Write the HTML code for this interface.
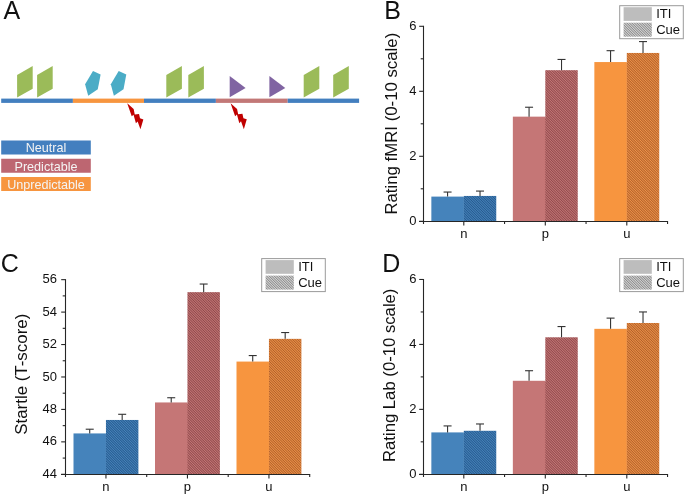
<!DOCTYPE html>
<html><head><meta charset="utf-8"><style>
html,body{margin:0;padding:0;background:#fff;}
svg{display:block;will-change:transform;}
text{font-family:"Liberation Sans", sans-serif;fill:#111;}
</style></head><body>
<svg width="685" height="495" viewBox="0 0 685 495" font-family='"Liberation Sans", sans-serif'>
<defs><pattern id="hb" patternUnits="userSpaceOnUse" width="1.77" height="10" patternTransform="rotate(-45)"><rect width="1.77" height="10" fill="#4583bb"/><rect x="0" y="0" width="0.885" height="10" fill="#275a8e"/></pattern><pattern id="hr" patternUnits="userSpaceOnUse" width="1.77" height="10" patternTransform="rotate(-45)"><rect width="1.77" height="10" fill="#c57676"/><rect x="0" y="0" width="0.885" height="10" fill="#8f4a4c"/></pattern><pattern id="ho" patternUnits="userSpaceOnUse" width="1.77" height="10" patternTransform="rotate(-45)"><rect width="1.77" height="10" fill="#ef9249"/><rect x="0" y="0" width="0.885" height="10" fill="#b0612a"/></pattern><pattern id="hg" patternUnits="userSpaceOnUse" width="1.77" height="10" patternTransform="rotate(-45)"><rect width="1.77" height="10" fill="#d8d8d8"/><rect x="0" y="0" width="0.885" height="10" fill="#8a8a8a"/></pattern></defs>
<rect x="431.35" y="196.60" width="32.45" height="24.70" fill="#4583bb"/>
<rect x="463.30" y="197.60" width="1.2" height="23.70" fill="#4583bb"/>
<rect x="463.80" y="195.95" width="32.45" height="25.35" fill="url(#hb)"/>
<line x1="447.57" y1="196.60" x2="447.57" y2="192.05" stroke="#333" stroke-width="1.1"/>
<line x1="443.57" y1="192.05" x2="451.57" y2="192.05" stroke="#333" stroke-width="1.1"/>
<line x1="480.03" y1="195.95" x2="480.03" y2="191.08" stroke="#333" stroke-width="1.1"/>
<line x1="476.03" y1="191.08" x2="484.03" y2="191.08" stroke="#333" stroke-width="1.1"/>
<rect x="512.85" y="116.65" width="32.45" height="104.65" fill="#c57676"/>
<rect x="544.80" y="117.65" width="1.2" height="103.65" fill="#c57676"/>
<rect x="545.30" y="70.18" width="32.45" height="151.12" fill="url(#hr)"/>
<line x1="529.07" y1="116.65" x2="529.07" y2="107.23" stroke="#333" stroke-width="1.1"/>
<line x1="525.07" y1="107.23" x2="533.07" y2="107.23" stroke="#333" stroke-width="1.1"/>
<line x1="561.52" y1="70.18" x2="561.52" y2="59.45" stroke="#333" stroke-width="1.1"/>
<line x1="557.52" y1="59.45" x2="565.52" y2="59.45" stroke="#333" stroke-width="1.1"/>
<rect x="594.35" y="62.05" width="32.45" height="159.25" fill="#f7953f"/>
<rect x="626.30" y="63.05" width="1.2" height="158.25" fill="#f7953f"/>
<rect x="626.80" y="52.95" width="32.45" height="168.35" fill="url(#ho)"/>
<line x1="610.57" y1="62.05" x2="610.57" y2="50.68" stroke="#333" stroke-width="1.1"/>
<line x1="606.57" y1="50.68" x2="614.57" y2="50.68" stroke="#333" stroke-width="1.1"/>
<line x1="643.02" y1="52.95" x2="643.02" y2="41.58" stroke="#333" stroke-width="1.1"/>
<line x1="639.02" y1="41.58" x2="647.02" y2="41.58" stroke="#333" stroke-width="1.1"/>
<line x1="423.50" y1="25.80" x2="423.50" y2="224.00" stroke="#262626" stroke-width="1.1"/>
<line x1="419.00" y1="221.50" x2="668.05" y2="221.50" stroke="#262626" stroke-width="1.1"/>
<line x1="419.20" y1="221.30" x2="423.50" y2="221.30" stroke="#262626" stroke-width="1.1"/>
<text x="416.45" y="224.90" text-anchor="end" font-size="13">0</text>
<line x1="420.70" y1="188.80" x2="423.50" y2="188.80" stroke="#262626" stroke-width="1.1"/>
<line x1="419.20" y1="156.30" x2="423.50" y2="156.30" stroke="#262626" stroke-width="1.1"/>
<text x="416.45" y="159.90" text-anchor="end" font-size="13">2</text>
<line x1="420.70" y1="123.80" x2="423.50" y2="123.80" stroke="#262626" stroke-width="1.1"/>
<line x1="419.20" y1="91.30" x2="423.50" y2="91.30" stroke="#262626" stroke-width="1.1"/>
<text x="416.45" y="94.90" text-anchor="end" font-size="13">4</text>
<line x1="420.70" y1="58.80" x2="423.50" y2="58.80" stroke="#262626" stroke-width="1.1"/>
<line x1="419.20" y1="26.30" x2="423.50" y2="26.30" stroke="#262626" stroke-width="1.1"/>
<text x="416.45" y="29.90" text-anchor="end" font-size="13">6</text>
<line x1="463.80" y1="221.50" x2="463.80" y2="225.50" stroke="#262626" stroke-width="1.1"/>
<line x1="504.55" y1="221.50" x2="504.55" y2="224.00" stroke="#262626" stroke-width="1.1"/>
<line x1="545.30" y1="221.50" x2="545.30" y2="225.50" stroke="#262626" stroke-width="1.1"/>
<line x1="586.05" y1="221.50" x2="586.05" y2="224.00" stroke="#262626" stroke-width="1.1"/>
<line x1="626.80" y1="221.50" x2="626.80" y2="225.50" stroke="#262626" stroke-width="1.1"/>
<line x1="667.55" y1="221.50" x2="667.55" y2="224.00" stroke="#262626" stroke-width="1.1"/>
<text x="463.80" y="238.30" text-anchor="middle" font-size="13">n</text>
<text x="545.30" y="238.30" text-anchor="middle" font-size="13">p</text>
<text x="626.80" y="238.30" text-anchor="middle" font-size="13">u</text>
<text transform="translate(397.40,123.70) rotate(-90)" text-anchor="middle" font-size="16.8">Rating fMRI (0-10 scale)</text>
<rect x="619.70" y="5.70" width="63.6" height="33" fill="#fff" stroke="#9a9a9a" stroke-width="1"/>
<rect x="623.60" y="7.20" width="28.2" height="13.7" fill="#bdbdbd"/>
<rect x="623.60" y="22.70" width="28.2" height="14" fill="url(#hg)"/>
<text x="656.20" y="18.20" font-size="13">ITI</text>
<text x="656.20" y="33.70" font-size="13">Cue</text>
<text x="384.30" y="18.50" font-size="25">B</text>
<rect x="73.50" y="433.43" width="32.45" height="40.87" fill="#4583bb"/>
<rect x="105.45" y="434.43" width="1.2" height="39.87" fill="#4583bb"/>
<rect x="105.95" y="419.96" width="32.45" height="54.34" fill="url(#hb)"/>
<line x1="89.72" y1="433.43" x2="89.72" y2="429.21" stroke="#333" stroke-width="1.1"/>
<line x1="85.72" y1="429.21" x2="93.72" y2="429.21" stroke="#333" stroke-width="1.1"/>
<line x1="122.18" y1="419.96" x2="122.18" y2="414.29" stroke="#333" stroke-width="1.1"/>
<line x1="118.18" y1="414.29" x2="126.18" y2="414.29" stroke="#333" stroke-width="1.1"/>
<rect x="155.00" y="402.45" width="32.45" height="71.85" fill="#c57676"/>
<rect x="186.95" y="403.45" width="1.2" height="70.85" fill="#c57676"/>
<rect x="187.45" y="292.15" width="32.45" height="182.15" fill="url(#hr)"/>
<line x1="171.22" y1="402.45" x2="171.22" y2="397.74" stroke="#333" stroke-width="1.1"/>
<line x1="167.22" y1="397.74" x2="175.22" y2="397.74" stroke="#333" stroke-width="1.1"/>
<line x1="203.67" y1="292.15" x2="203.67" y2="284.04" stroke="#333" stroke-width="1.1"/>
<line x1="199.67" y1="284.04" x2="207.67" y2="284.04" stroke="#333" stroke-width="1.1"/>
<rect x="236.50" y="361.57" width="32.45" height="112.73" fill="#f7953f"/>
<rect x="268.45" y="362.57" width="1.2" height="111.73" fill="#f7953f"/>
<rect x="268.95" y="338.86" width="32.45" height="135.44" fill="url(#ho)"/>
<line x1="252.72" y1="361.57" x2="252.72" y2="355.57" stroke="#333" stroke-width="1.1"/>
<line x1="248.72" y1="355.57" x2="256.73" y2="355.57" stroke="#333" stroke-width="1.1"/>
<line x1="285.18" y1="338.86" x2="285.18" y2="332.54" stroke="#333" stroke-width="1.1"/>
<line x1="281.18" y1="332.54" x2="289.18" y2="332.54" stroke="#333" stroke-width="1.1"/>
<line x1="65.50" y1="279.16" x2="65.50" y2="477.00" stroke="#262626" stroke-width="1.1"/>
<line x1="61.00" y1="474.50" x2="310.20" y2="474.50" stroke="#262626" stroke-width="1.1"/>
<line x1="61.20" y1="474.30" x2="65.50" y2="474.30" stroke="#262626" stroke-width="1.1"/>
<text x="56.90" y="477.90" text-anchor="end" font-size="13">44</text>
<line x1="62.70" y1="458.08" x2="65.50" y2="458.08" stroke="#262626" stroke-width="1.1"/>
<line x1="61.20" y1="441.86" x2="65.50" y2="441.86" stroke="#262626" stroke-width="1.1"/>
<text x="56.90" y="445.46" text-anchor="end" font-size="13">46</text>
<line x1="62.70" y1="425.64" x2="65.50" y2="425.64" stroke="#262626" stroke-width="1.1"/>
<line x1="61.20" y1="409.42" x2="65.50" y2="409.42" stroke="#262626" stroke-width="1.1"/>
<text x="56.90" y="413.02" text-anchor="end" font-size="13">48</text>
<line x1="62.70" y1="393.20" x2="65.50" y2="393.20" stroke="#262626" stroke-width="1.1"/>
<line x1="61.20" y1="376.98" x2="65.50" y2="376.98" stroke="#262626" stroke-width="1.1"/>
<text x="56.90" y="380.58" text-anchor="end" font-size="13">50</text>
<line x1="62.70" y1="360.76" x2="65.50" y2="360.76" stroke="#262626" stroke-width="1.1"/>
<line x1="61.20" y1="344.54" x2="65.50" y2="344.54" stroke="#262626" stroke-width="1.1"/>
<text x="56.90" y="348.14" text-anchor="end" font-size="13">52</text>
<line x1="62.70" y1="328.32" x2="65.50" y2="328.32" stroke="#262626" stroke-width="1.1"/>
<line x1="61.20" y1="312.10" x2="65.50" y2="312.10" stroke="#262626" stroke-width="1.1"/>
<text x="56.90" y="315.70" text-anchor="end" font-size="13">54</text>
<line x1="62.70" y1="295.88" x2="65.50" y2="295.88" stroke="#262626" stroke-width="1.1"/>
<line x1="61.20" y1="279.66" x2="65.50" y2="279.66" stroke="#262626" stroke-width="1.1"/>
<text x="56.90" y="283.26" text-anchor="end" font-size="13">56</text>
<line x1="105.95" y1="474.50" x2="105.95" y2="478.50" stroke="#262626" stroke-width="1.1"/>
<line x1="146.70" y1="474.50" x2="146.70" y2="477.00" stroke="#262626" stroke-width="1.1"/>
<line x1="187.45" y1="474.50" x2="187.45" y2="478.50" stroke="#262626" stroke-width="1.1"/>
<line x1="228.20" y1="474.50" x2="228.20" y2="477.00" stroke="#262626" stroke-width="1.1"/>
<line x1="268.95" y1="474.50" x2="268.95" y2="478.50" stroke="#262626" stroke-width="1.1"/>
<line x1="309.70" y1="474.50" x2="309.70" y2="477.00" stroke="#262626" stroke-width="1.1"/>
<text x="105.95" y="491.30" text-anchor="middle" font-size="13">n</text>
<text x="187.45" y="491.30" text-anchor="middle" font-size="13">p</text>
<text x="268.95" y="491.30" text-anchor="middle" font-size="13">u</text>
<text transform="translate(26.50,374.25) rotate(-90)" text-anchor="middle" font-size="16.9">Startle (T-score)</text>
<rect x="261.70" y="258.60" width="63.6" height="33" fill="#fff" stroke="#9a9a9a" stroke-width="1"/>
<rect x="265.60" y="260.10" width="28.2" height="13.7" fill="#bdbdbd"/>
<rect x="265.60" y="275.60" width="28.2" height="14" fill="url(#hg)"/>
<text x="298.20" y="271.10" font-size="13">ITI</text>
<text x="298.20" y="286.60" font-size="13">Cue</text>
<text x="0.70" y="271.50" font-size="25">C</text>
<rect x="431.35" y="432.41" width="32.45" height="41.89" fill="#4583bb"/>
<rect x="463.30" y="433.41" width="1.2" height="40.89" fill="#4583bb"/>
<rect x="463.80" y="430.79" width="32.45" height="43.51" fill="url(#hb)"/>
<line x1="447.57" y1="432.41" x2="447.57" y2="425.92" stroke="#333" stroke-width="1.1"/>
<line x1="443.57" y1="425.92" x2="451.57" y2="425.92" stroke="#333" stroke-width="1.1"/>
<line x1="480.03" y1="430.79" x2="480.03" y2="423.97" stroke="#333" stroke-width="1.1"/>
<line x1="476.03" y1="423.97" x2="484.03" y2="423.97" stroke="#333" stroke-width="1.1"/>
<rect x="512.85" y="380.79" width="32.45" height="93.51" fill="#c57676"/>
<rect x="544.80" y="381.79" width="1.2" height="92.51" fill="#c57676"/>
<rect x="545.30" y="337.28" width="32.45" height="137.02" fill="url(#hr)"/>
<line x1="529.07" y1="380.79" x2="529.07" y2="370.72" stroke="#333" stroke-width="1.1"/>
<line x1="525.07" y1="370.72" x2="533.07" y2="370.72" stroke="#333" stroke-width="1.1"/>
<line x1="561.52" y1="337.28" x2="561.52" y2="326.56" stroke="#333" stroke-width="1.1"/>
<line x1="557.52" y1="326.56" x2="565.52" y2="326.56" stroke="#333" stroke-width="1.1"/>
<rect x="594.35" y="328.83" width="32.45" height="145.47" fill="#f7953f"/>
<rect x="626.30" y="329.83" width="1.2" height="144.47" fill="#f7953f"/>
<rect x="626.80" y="322.99" width="32.45" height="151.31" fill="url(#ho)"/>
<line x1="610.57" y1="328.83" x2="610.57" y2="318.12" stroke="#333" stroke-width="1.1"/>
<line x1="606.57" y1="318.12" x2="614.57" y2="318.12" stroke="#333" stroke-width="1.1"/>
<line x1="643.02" y1="322.99" x2="643.02" y2="311.95" stroke="#333" stroke-width="1.1"/>
<line x1="639.02" y1="311.95" x2="647.02" y2="311.95" stroke="#333" stroke-width="1.1"/>
<line x1="423.50" y1="278.98" x2="423.50" y2="477.00" stroke="#262626" stroke-width="1.1"/>
<line x1="419.00" y1="474.50" x2="668.05" y2="474.50" stroke="#262626" stroke-width="1.1"/>
<line x1="419.20" y1="474.30" x2="423.50" y2="474.30" stroke="#262626" stroke-width="1.1"/>
<text x="416.45" y="477.90" text-anchor="end" font-size="13">0</text>
<line x1="420.70" y1="441.83" x2="423.50" y2="441.83" stroke="#262626" stroke-width="1.1"/>
<line x1="419.20" y1="409.36" x2="423.50" y2="409.36" stroke="#262626" stroke-width="1.1"/>
<text x="416.45" y="412.96" text-anchor="end" font-size="13">2</text>
<line x1="420.70" y1="376.89" x2="423.50" y2="376.89" stroke="#262626" stroke-width="1.1"/>
<line x1="419.20" y1="344.42" x2="423.50" y2="344.42" stroke="#262626" stroke-width="1.1"/>
<text x="416.45" y="348.02" text-anchor="end" font-size="13">4</text>
<line x1="420.70" y1="311.95" x2="423.50" y2="311.95" stroke="#262626" stroke-width="1.1"/>
<line x1="419.20" y1="279.48" x2="423.50" y2="279.48" stroke="#262626" stroke-width="1.1"/>
<text x="416.45" y="283.08" text-anchor="end" font-size="13">6</text>
<line x1="463.80" y1="474.50" x2="463.80" y2="478.50" stroke="#262626" stroke-width="1.1"/>
<line x1="504.55" y1="474.50" x2="504.55" y2="477.00" stroke="#262626" stroke-width="1.1"/>
<line x1="545.30" y1="474.50" x2="545.30" y2="478.50" stroke="#262626" stroke-width="1.1"/>
<line x1="586.05" y1="474.50" x2="586.05" y2="477.00" stroke="#262626" stroke-width="1.1"/>
<line x1="626.80" y1="474.50" x2="626.80" y2="478.50" stroke="#262626" stroke-width="1.1"/>
<line x1="667.55" y1="474.50" x2="667.55" y2="477.00" stroke="#262626" stroke-width="1.1"/>
<text x="463.80" y="491.30" text-anchor="middle" font-size="13">n</text>
<text x="545.30" y="491.30" text-anchor="middle" font-size="13">p</text>
<text x="626.80" y="491.30" text-anchor="middle" font-size="13">u</text>
<text transform="translate(394.70,375.30) rotate(-90)" text-anchor="middle" font-size="16.7">Rating Lab (0-10 scale)</text>
<rect x="619.70" y="258.60" width="63.6" height="33" fill="#fff" stroke="#9a9a9a" stroke-width="1"/>
<rect x="623.60" y="260.10" width="28.2" height="13.7" fill="#bdbdbd"/>
<rect x="623.60" y="275.60" width="28.2" height="14" fill="url(#hg)"/>
<text x="656.20" y="271.10" font-size="13">ITI</text>
<text x="656.20" y="286.60" font-size="13">Cue</text>
<text x="382.20" y="271.80" font-size="25">D</text>
<text x="3.5" y="18.6" font-size="25">A</text>
<rect x="1.2" y="98.6" width="71.70" height="4.3" fill="#437fbf"/>
<rect x="72.9" y="98.6" width="71.10" height="4.3" fill="#f7953f"/>
<rect x="144" y="98.6" width="71.90" height="4.3" fill="#437fbf"/>
<rect x="215.9" y="98.6" width="71.80" height="4.3" fill="#c27877"/>
<rect x="287.7" y="98.6" width="71.40" height="4.3" fill="#437fbf"/>
<polygon points="17.10,75.1 32.70,66.0 32.70,88.8 17.10,97.6" fill="#9bbb59"/>
<polygon points="37.10,75.1 52.70,66.0 52.70,88.8 37.10,97.6" fill="#9bbb59"/>
<polygon points="166.30,75.1 181.90,66.0 181.90,88.8 166.30,97.6" fill="#9bbb59"/>
<polygon points="188.30,75.1 203.90,66.0 203.90,88.8 188.30,97.6" fill="#9bbb59"/>
<polygon points="303.70,75.1 319.30,66.0 319.30,88.8 303.70,97.6" fill="#9bbb59"/>
<polygon points="333.20,75.1 348.80,66.0 348.80,88.8 333.20,97.6" fill="#9bbb59"/>
<polygon points="93.00,70.90 100.60,74.50 97.80,89.20 88.20,95.80 85.10,84.30" fill="#4bacc6"/>
<polygon points="118.70,70.90 126.30,74.50 123.50,89.20 113.90,95.80 110.80,84.30" fill="#4bacc6"/>
<polygon points="229.70,75.9 245.60,88 229.70,97.2" fill="#8064a2"/>
<polygon points="269.40,75.9 285.30,88 269.40,97.2" fill="#8064a2"/>
<polygon points="127.20,103.30 133.66,109.12 134.76,114.42 139.03,113.97 140.00,118.30 143.36,119.46 140.45,129.29 137.61,121.40 135.93,123.34 133.53,114.68 131.72,116.36" fill="#c00000"/>
<polygon points="230.60,103.20 237.06,109.02 238.16,114.32 242.43,113.87 243.40,118.20 246.76,119.36 243.85,129.19 241.01,121.30 239.33,123.24 236.93,114.58 235.12,116.26" fill="#c00000"/>
<rect x="1.2" y="140.50" width="89.6" height="14" fill="#437fbf"/>
<text x="46" y="152.30" text-anchor="middle" font-size="12.6" style="fill:#f4f4f4">Neutral</text>
<rect x="1.2" y="158.75" width="89.6" height="14" fill="#bd6671"/>
<text x="46" y="170.55" text-anchor="middle" font-size="12.6" style="fill:#f4f4f4">Predictable</text>
<rect x="1.2" y="177.00" width="89.6" height="14" fill="#f7953f"/>
<text x="46" y="188.80" text-anchor="middle" font-size="12.6" style="fill:#f4f4f4">Unpredictable</text>
</svg>
</body></html>
